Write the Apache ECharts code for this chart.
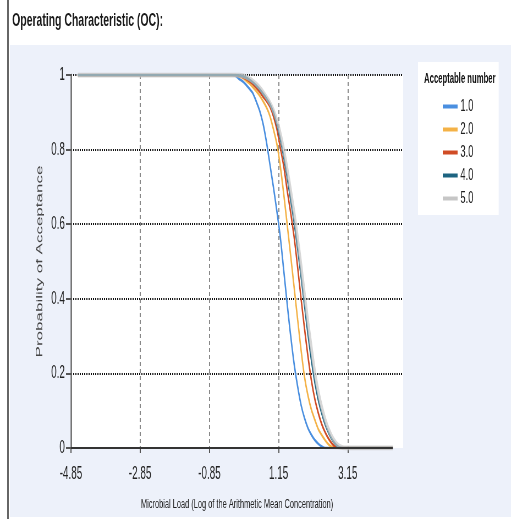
<!DOCTYPE html>
<html>
<head>
<meta charset="utf-8">
<script src="https://cdn.jsdelivr.net/npm/echarts@6/dist/echarts.min.js"></script>
<style>
  html, body { margin: 0; padding: 0; overflow: hidden; background: #fff; }
  #edge { position: absolute; left: 7px; top: 0; width: 1.5px; height: 519px; background: #666; }
  #panel { position: absolute; left: 10px; top: 45px; width: 501px; height: 472px; background: #edf1fa; }
  /* the original picture is squeezed sideways, so the chart is drawn wide and scaled */
  #main { position: absolute; left: 0; top: 0; width: 929px; height: 519px; transform: scaleX(0.55); transform-origin: 0 0; }
</style>
</head>
<body>
<div id="edge"></div>
<div id="panel"></div>
<div id="main"></div>
<script>
'use strict';

// x = log of the arithmetic mean concentration
var xs = [-4.65, -1.0, -0.5, -0.2, -0.1,
  0.0, 0.1, 0.2, 0.3, 0.4, 0.5, 0.6, 0.7, 0.8, 0.9,
  1.0, 1.1, 1.2, 1.3, 1.4, 1.5, 1.6, 1.7, 1.8, 1.9,
  2.0, 2.1, 2.2, 2.3, 2.4, 2.5, 2.6, 2.7, 2.8, 2.9,
  3.0, 3.1, 3.5, 4.45];

// probability of acceptance, one list per acceptable number
var pa1 = [1, 1, 1, 1, 0.998,
  0.99, 0.984, 0.975, 0.964, 0.952, 0.93, 0.905, 0.87, 0.82, 0.76,
  0.70, 0.635, 0.565, 0.475, 0.385, 0.30, 0.225, 0.165, 0.115, 0.08,
  0.053, 0.035, 0.021, 0.011, 0.004, 0, 0, 0, 0, 0,
  0, 0, 0, 0];
var pa2 = [1, 1, 1, 1, 1,
  0.997, 0.993, 0.986, 0.978, 0.968, 0.957, 0.945, 0.93, 0.913, 0.89,
  0.855, 0.815, 0.755, 0.68, 0.598, 0.515, 0.43, 0.345, 0.262, 0.19,
  0.14, 0.102, 0.075, 0.05, 0.034, 0.02, 0.009, 0.002, 0, 0,
  0, 0, 0, 0];
var pa3 = [1, 1, 1, 1, 1,
  0.998, 0.995, 0.99, 0.984, 0.976, 0.966, 0.955, 0.942, 0.93, 0.915,
  0.89, 0.855, 0.805, 0.755, 0.69, 0.63, 0.565, 0.485, 0.40, 0.32,
  0.245, 0.18, 0.13, 0.093, 0.063, 0.041, 0.024, 0.011, 0.002, 0,
  0, 0, 0, 0];
var pa4 = [1, 1, 1, 1, 1,
  0.999, 0.997, 0.993, 0.988, 0.981, 0.972, 0.962, 0.95, 0.937, 0.922,
  0.90, 0.868, 0.828, 0.78, 0.725, 0.665, 0.605, 0.535, 0.46, 0.382,
  0.305, 0.235, 0.175, 0.128, 0.092, 0.062, 0.04, 0.022, 0.01, 0.002,
  0, 0, 0, 0];
var pa5 = [1, 1, 1, 1, 1,
  1, 0.998, 0.995, 0.99, 0.984, 0.976, 0.966, 0.954, 0.94, 0.925,
  0.905, 0.878, 0.842, 0.798, 0.745, 0.688, 0.628, 0.56, 0.487, 0.41,
  0.335, 0.265, 0.2, 0.148, 0.107, 0.074, 0.048, 0.028, 0.014, 0.005,
  0.001, 0, 0, 0];

var names = ['1.0', '2.0', '3.0', '4.0', '5.0'];
var colors = ['#4a8fe0', '#f4b247', '#d04c25', '#1d6481', '#c6c6c6'];
var curves = [pa1, pa2, pa3, pa4, pa5];

var font = "'Liberation Sans', Arial, sans-serif";

var series = curves.map(function (ys, k) {
  var s = {
    name: names[k],
    type: 'line',
    showSymbol: false,
    smooth: 0.3,
    color: colors[k],
    lineStyle: { width: k === 4 ? 5 : 2.6, color: colors[k], opacity: k === 4 ? 0.7 : 1 },
    data: xs.map(function (x, i) { return [x, ys[i]]; })
  };
  // x axis line, which stops short of the plot edge
  if (k === 0) {
    s.markLine = {
      silent: true,
      symbol: 'none',
      label: { show: false },
      lineStyle: { type: 'solid', color: '#333', width: 2 },
      data: [[{ coord: [-4.85, 0] }, { coord: [4.45, 0] }]]
    };
  }
  return s;
});

var myChart = echarts.init(document.getElementById('main'));

var option = {
  animation: false,
  backgroundColor: 'transparent',
  textStyle: { fontFamily: font },
  title: [{
    text: 'Operating Characteristic (OC):',
    left: 22,
    top: 11,
    padding: 0,
    textStyle: { fontFamily: font, fontSize: 19, fontWeight: 'bold', color: '#1a1a1a' }
  }, {
    text: 'Acceptable number',
    left: 836,
    top: 72,
    padding: 0,
    textAlign: 'center',
    textStyle: { fontFamily: font, fontSize: 14, fontWeight: 'bold', color: '#111' }
  }],
  legend: {
    orient: 'vertical',
    left: 760,
    top: 62,
    padding: [36, 46, 8, 45],
    backgroundColor: '#fff',
    icon: 'rect',
    itemWidth: 27,
    itemHeight: 4,
    itemGap: 6,
    textStyle: { fontFamily: font, fontSize: 17, color: '#222', lineHeight: 17 },
    data: names
  },
  grid: {
    left: 129,
    right: 196,
    top: 75,
    bottom: 71,
    show: true,
    backgroundColor: '#fff',
    borderWidth: 0
  },
  xAxis: {
    type: 'value',
    min: -4.85,
    max: 4.75,
    interval: 2,
    name: 'Microbial Load (Log of the Arithmetic Mean Concentration)',
    nameLocation: 'middle',
    nameGap: 49,
    nameTextStyle: { fontFamily: font, fontSize: 13.5, color: '#222' },
    axisLine: { show: false },
    axisTick: { show: true, length: 5, lineStyle: { color: '#555', width: 2 } },
    axisLabel: { showMaxLabel: false, margin: 17, fontSize: 18, color: '#222' },
    splitLine: {
      show: true,
      showMinLine: false,
      showMaxLine: false,
      lineStyle: { color: '#888', width: 2, type: [4, 3] }
    }
  },
  yAxis: {
    type: 'value',
    min: 0,
    max: 1,
    interval: 0.2,
    name: 'Probability of Acceptance',
    nameLocation: 'middle',
    nameGap: 48,
    nameTextStyle: { fontFamily: font, fontSize: 17, color: '#444' },
    axisLine: { show: true, onZero: false, lineStyle: { color: '#666', width: 2.5 } },
    axisTick: { show: true, length: 9, lineStyle: { color: '#555', width: 2 } },
    axisLabel: { margin: 11, fontSize: 18, color: '#222' },
    splitLine: {
      show: true,
      showMinLine: false,
      lineStyle: { color: '#111', width: 2, type: [2, 2] }
    }
  },
  series: series
};

myChart.setOption(option);
</script>
</body>
</html>
